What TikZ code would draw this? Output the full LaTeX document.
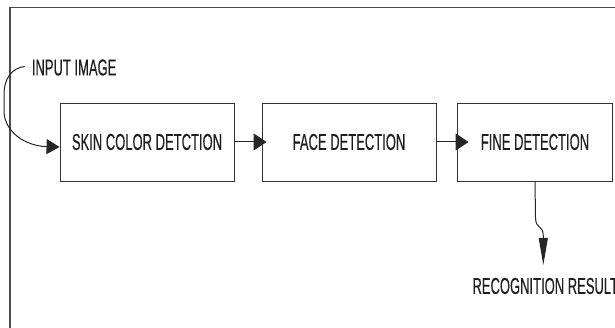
\documentclass[tikz,border=0pt]{standalone}
\usepackage{fontspec}
\newfontfamily\labfont[FakeStretch=0.565,FakeBold=0.35]{Liberation Sans}
\usetikzlibrary{arrows.meta,calc}
\begin{document}
\begin{tikzpicture}[x=1pt,y=-1pt,
  lab/.style={font=\labfont\fontsize{23}{25}\selectfont, text=black!88, inner sep=0pt},
  stagebox/.style={draw=black!80, line width=0.9pt, minimum height=78pt, inner sep=0pt, font=\labfont\fontsize{23}{25}\selectfont, text=black!88},
  conn/.style={draw=black!85, line width=1pt},
  harrow/.style={-{Triangle[length=13pt,width=17pt]}}]
\useasboundingbox (0,0) rectangle (615,328);
\draw[black!70, line width=1.4pt] (10,328) -- (10,7.5) -- (615,7.5);
\node[stagebox, minimum width=174pt] (b1) at (147,142) {SKIN COLOR DETCTION};
\node[stagebox, minimum width=174pt] (b2) at (349,142) {FACE DETECTION};
\node[stagebox, minimum width=155pt] (b3) at (535,142) {FINE DETECTION};
\node[lab, anchor=west] (in) at (31.7,67.5) {INPUT IMAGE};
\node[lab, anchor=west] (rr) at (472.3,286) {RECOGNITION RESULT};
\coordinate (tip) at (543.3,265);
\draw[conn, -{Triangle[length=13pt,width=15pt]}] ($(in.west)+(-7,-1)$) .. controls (12,68) and (4,78) .. (4,95) -- (4,112) .. controls (5,132) and (25,146) .. ($(b1.west)+(0,5)$);
\draw[conn, harrow, shorten >=-5pt] (b1.east) -- (b2.west);
\draw[conn, harrow, shorten >=-11.5pt] (b2.east) -- (b3.west);
\draw[conn, -{Triangle[length=27pt,width=9pt]}] (b3.south) -- (535.5,218) .. controls (536,230) and (543,224) .. (543.3,236) -- (tip);
\end{tikzpicture}
\end{document}
